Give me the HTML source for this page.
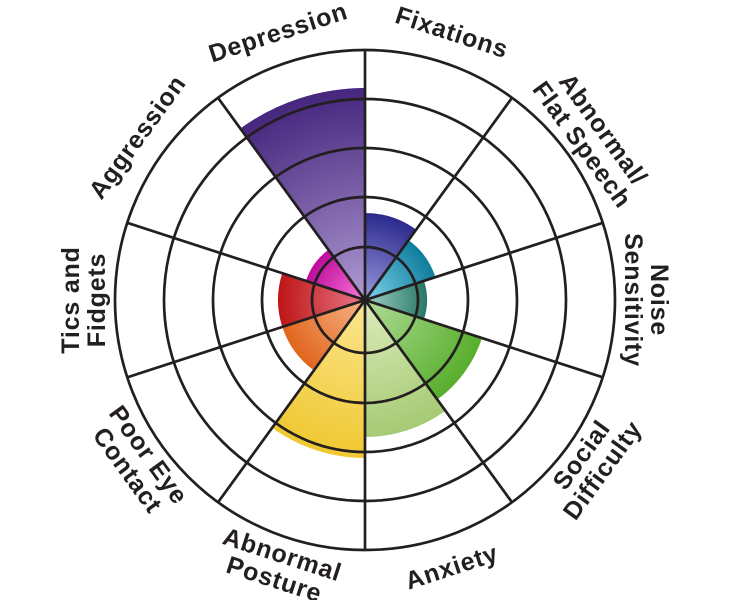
<!DOCTYPE html>
<html><head><meta charset="utf-8"><style>
html,body{margin:0;padding:0;background:#fff;}
svg{display:block}
text{font-family:"Liberation Sans",Arial,sans-serif;font-weight:bold;font-size:25px;letter-spacing:0.8px;fill:#231f20;}
</style></head><body>
<svg width="732" height="600" viewBox="0 0 732 600" xmlns="http://www.w3.org/2000/svg">
<defs>
<radialGradient id="g1" gradientUnits="userSpaceOnUse" cx="365" cy="300" r="87"><stop offset="0" stop-color="#9a9ae0"/><stop offset="1" stop-color="#2c2a8c"/></radialGradient>
<radialGradient id="g2" gradientUnits="userSpaceOnUse" cx="365" cy="300" r="74"><stop offset="0" stop-color="#80d4ec"/><stop offset="1" stop-color="#0e7d9c"/></radialGradient>
<radialGradient id="g3" gradientUnits="userSpaceOnUse" cx="365" cy="300" r="62"><stop offset="0" stop-color="#a0d0c4"/><stop offset="1" stop-color="#2a7868"/></radialGradient>
<radialGradient id="g4" gradientUnits="userSpaceOnUse" cx="365" cy="300" r="123"><stop offset="0" stop-color="#b0dc98"/><stop offset="1" stop-color="#58ae2c"/></radialGradient>
<radialGradient id="g5" gradientUnits="userSpaceOnUse" cx="365" cy="300" r="137"><stop offset="0" stop-color="#dcecbc"/><stop offset="1" stop-color="#a6ca74"/></radialGradient>
<radialGradient id="g6" gradientUnits="userSpaceOnUse" cx="365" cy="300" r="158"><stop offset="0" stop-color="#fbe690"/><stop offset="1" stop-color="#f0c832"/></radialGradient>
<radialGradient id="g7" gradientUnits="userSpaceOnUse" cx="365" cy="300" r="87"><stop offset="0" stop-color="#f8b488"/><stop offset="1" stop-color="#e0661e"/></radialGradient>
<radialGradient id="g8" gradientUnits="userSpaceOnUse" cx="365" cy="300" r="87"><stop offset="0" stop-color="#e87888"/><stop offset="1" stop-color="#be1616"/></radialGradient>
<radialGradient id="g9" gradientUnits="userSpaceOnUse" cx="365" cy="300" r="62"><stop offset="0" stop-color="#f878d8"/><stop offset="1" stop-color="#be0c9c"/></radialGradient>
<radialGradient id="g10" gradientUnits="userSpaceOnUse" cx="365" cy="300" r="212"><stop offset="0" stop-color="#b09ad2"/><stop offset="1" stop-color="#46267e"/></radialGradient>
</defs>
<path d="M365,300 L365,213 A87,87 0 0 1 416.1,229.6 Z" fill="url(#g1)"/>
<path d="M365,300 L408.5,240.1 A74,74 0 0 1 435.4,277.1 Z" fill="url(#g2)"/>
<path d="M365,300 L424,280.8 A62,62 0 0 1 424,319.2 Z" fill="url(#g3)"/>
<path d="M365,300 L482,338 A123,123 0 0 1 437.3,399.5 Z" fill="url(#g4)"/>
<path d="M365,300 L445.5,410.8 A137,137 0 0 1 365,437 Z" fill="url(#g5)"/>
<path d="M365,300 L365,458 A158,158 0 0 1 272.1,427.8 Z" fill="url(#g6)"/>
<path d="M365,300 L313.9,370.4 A87,87 0 0 1 282.3,326.9 Z" fill="url(#g7)"/>
<path d="M365,300 L282.3,326.9 A87,87 0 0 1 282.3,273.1 Z" fill="url(#g8)"/>
<path d="M365,300 L306,280.8 A62,62 0 0 1 328.6,249.8 Z" fill="url(#g9)"/>
<path d="M365,300 L240.4,128.5 A212,212 0 0 1 365,88 Z" fill="url(#g10)"/>
<g fill="none" stroke="#231f20" stroke-width="2.7">
<circle cx="365" cy="300" r="53"/>
<circle cx="365" cy="300" r="103"/>
<circle cx="365" cy="300" r="152"/>
<circle cx="365" cy="300" r="201"/>
<circle cx="365" cy="300" r="250"/>
<line x1="365" y1="50" x2="365" y2="550"/>
<line x1="512" y1="97.8" x2="218" y2="502.3"/>
<line x1="602.8" y1="222.8" x2="127.2" y2="377.3"/>
<line x1="602.8" y1="377.3" x2="127.2" y2="222.8"/>
<line x1="512" y1="502.3" x2="218" y2="97.8"/>
</g>
<g text-anchor="middle" dominant-baseline="central">
<text transform="translate(451.8,32.7) rotate(18)">Fixations</text>
<text transform="translate(592.3,137.2) rotate(54)"><tspan x="0" y="-13">Abnormal/</tspan><tspan x="0" y="13">Flat Speech</tspan></text>
<text transform="translate(646,300) rotate(90)"><tspan x="0" y="-13">Noise</tspan><tspan x="0" y="13">Sensitivity</tspan></text>
<text transform="translate(592.3,462.8) rotate(-54)"><tspan x="0" y="-13">Social</tspan><tspan x="0" y="13">Difficulty</tspan></text>
<text transform="translate(451.8,567.3) rotate(-18)">Anxiety</text>
<text transform="translate(278.2,567.3) rotate(18)"><tspan x="0" y="-13">Abnormal</tspan><tspan x="0" y="13">Posture</tspan></text>
<text transform="translate(137.7,462.8) rotate(54)"><tspan x="0" y="-13">Poor Eye</tspan><tspan x="0" y="13">Contact</tspan></text>
<text transform="translate(84,300) rotate(-90)"><tspan x="0" y="-13">Tics and</tspan><tspan x="0" y="13">Fidgets</tspan></text>
<text transform="translate(137.7,137.2) rotate(-54)">Aggression</text>
<text transform="translate(278.2,32.7) rotate(-18)">Depression</text>
</g>
</svg>
</body></html>
